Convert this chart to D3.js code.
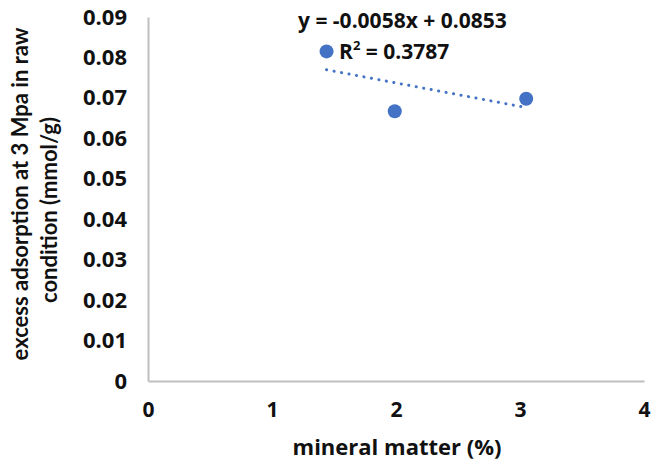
<!DOCTYPE html>
<html>
<head>
<meta charset="utf-8">
<script src="https://cdn.jsdelivr.net/npm/d3@7"></script>
<style>
  html, body { margin: 0; padding: 0; background: #fff; }
  svg { display: block; }
  text { font-family: "Open Sans", Lato, sans-serif; font-weight: bold; fill: #111; }
</style>
</head>
<body>
<svg id="chart" width="652" height="464"></svg>
<script>
// Mineral matter content (%) and excess adsorption at 3 MPa (mmol/g)
const mineralMatter = [1.44, 1.99, 3.05];
const excessAdsorption = [0.0815, 0.0667, 0.0698];

// Linear trend line coefficients and fit quality
const slope = -0.0058;
const intercept = 0.0853;
const rSquared = "0.3787";

const xTicks = [0, 1, 2, 3, 4];
const yTicks = [0, 0.01, 0.02, 0.03, 0.04, 0.05, 0.06, 0.07, 0.08, 0.09];

const svg = d3.select("#chart");
const margin = { left: 148, right: 8, top: 17, bottom: 83 };
const W = 652, H = 464;

const x = d3.scaleLinear().domain([0, 4]).range([margin.left, W - margin.right]);
const y = d3.scaleLinear().domain([0, 0.09]).range([H - margin.bottom, margin.top]);

const axisColor = "#bfbfbf";
const tickFont = "'Open Sans', sans-serif";

// Axes
const xAxis = svg.append("g")
  .attr("transform", `translate(0,${y(0)})`)
  .call(d3.axisBottom(x).tickValues(xTicks).tickSize(0).tickPadding(21).tickFormat(d3.format("d")));
xAxis.select(".domain").attr("stroke", axisColor).attr("stroke-width", 2);
xAxis.selectAll("text").attr("font-size", 21).style("font-family", tickFont).style("font-weight", "bold").attr("fill", "#111");

const yAxis = svg.append("g")
  .attr("transform", `translate(${x(0)},0)`)
  .call(d3.axisLeft(y).tickValues(yTicks).tickSize(0).tickPadding(21)
    .tickFormat(d => d === 0 ? "0" : d3.format(".2f")(d)));
yAxis.select(".domain").attr("stroke", axisColor).attr("stroke-width", 2);
yAxis.selectAll("text").attr("font-size", 22).style("font-family", tickFont).style("font-weight", "bold").attr("fill", "#111");

// Trend line over the data range
const xMin = d3.min(mineralMatter), xMax = d3.max(mineralMatter);
svg.append("line")
  .attr("x1", x(xMin)).attr("y1", y(slope * xMin + intercept))
  .attr("x2", x(xMax)).attr("y2", y(slope * xMax + intercept))
  .attr("stroke", "#4472c4")
  .attr("stroke-width", 3)
  .attr("stroke-dasharray", "0.1 7.5")
  .attr("stroke-linecap", "round");

// Data points
svg.append("g").selectAll("circle")
  .data(mineralMatter.map((v, i) => [v, excessAdsorption[i]]))
  .join("circle")
  .attr("cx", d => x(d[0]))
  .attr("cy", d => y(d[1]))
  .attr("r", 7)
  .attr("fill", "#4472c4");

// Trend line equation label
svg.append("text")
  .attr("x", 298).attr("y", 28)
  .attr("font-size", 21)
  .text(`y = ${slope.toFixed(4)}x + ${intercept.toFixed(4)}`);

const r2 = svg.append("text")
  .attr("x", 339).attr("y", 59)
  .attr("font-size", 21);
r2.append("tspan").text("R");
r2.append("tspan").attr("font-size", 13).attr("dy", -9).text("2");
r2.append("tspan").attr("dy", 9).text(` = ${rSquared}`);

// Axis titles
svg.append("text")
  .attr("x", 397).attr("y", 455)
  .attr("text-anchor", "middle")
  .attr("font-size", 22)
  .text("mineral matter (%)");

svg.append("text")
  .attr("transform", "translate(28,194) rotate(-90)")
  .attr("text-anchor", "middle")
  .style("font-family", "Lato, sans-serif")
  .attr("font-size", 22)
  .text("excess adsorption at 3 Mpa in raw");
svg.append("text")
  .attr("transform", "translate(57,210) rotate(-90)")
  .attr("text-anchor", "middle")
  .style("font-family", "Lato, sans-serif")
  .attr("font-size", 22)
  .text("condition (mmol/g)");
</script>
</body>
</html>
